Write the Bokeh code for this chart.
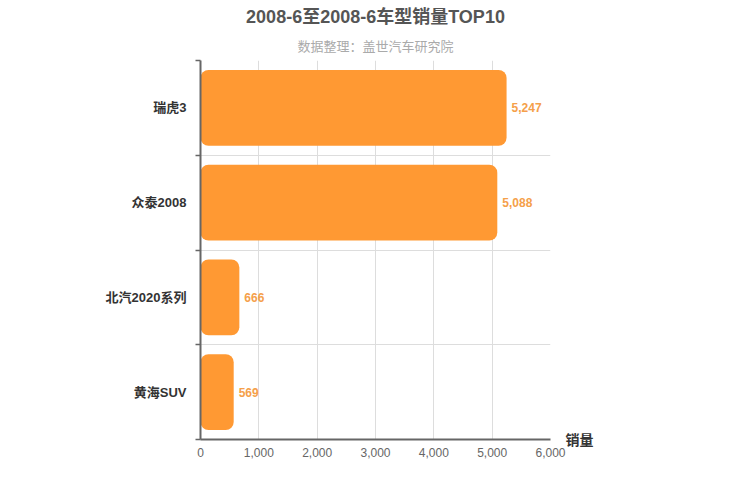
from bokeh.plotting import figure
from bokeh.models import (ColumnDataSource, Range1d, FixedTicker, NumeralTickFormatter,
                          Title, LinearAxis)
from bokeh.embed import file_html
from bokeh.resources import INLINE
from bokeh.core.properties import value

title_text = "2008-6至2008-6车型销量TOP10"
subtitle_text = "数据整理：盖世汽车研究院"
axis_name = "销量"
categories = ["瑞虎3", "众泰2008", "北汽2020系列", "黄海SUV"]
sales = [5247, 5088, 666, 569]
x_ticks = [0, 1000, 2000, 3000, 4000, 5000, 6000]

n = len(categories)
idx = list(range(n))
src = ColumnDataSource(dict(
    y=idx, v=sales, cat=categories,
    lab=[f"{s:,}" for s in sales],
))

FONT = "Liberation Sans, Noto Sans CJK SC"

p = figure(width=734, height=484, output_backend="svg", toolbar_location=None,
           x_range=Range1d(0, 6000), y_range=Range1d(n - 0.5, -0.5),
           min_border_left=200, min_border_right=184, min_border_top=60,
           min_border_bottom=45, y_axis_location=None, x_axis_location=None)
p.outline_line_color = None

p.hbar(y="y", right="v", left=0, height=0.8, source=src, color="#ff9933",
       line_color=None, border_radius=8)

p.text(x="v", y="y", text="lab", source=src, x_offset=5,
       text_baseline="middle", text_align="left", text_color="#f5a04a",
       text_font=value(FONT), text_font_size="12px", text_font_style="bold")

# x axis
xa = LinearAxis(ticker=FixedTicker(ticks=x_ticks),
                formatter=NumeralTickFormatter(format="0,0"))
xa.axis_line_color = "#666666"
xa.axis_line_width = 2
xa.major_tick_line_color = None
xa.major_tick_out = 0
xa.minor_tick_line_color = None
xa.major_label_text_color = "#666666"
xa.major_label_text_font = FONT
xa.major_label_text_font_size = "12px"
xa.major_label_standoff = 8
p.add_layout(xa, "below")

# y axis
ya = LinearAxis(ticker=FixedTicker(ticks=idx, minor_ticks=[i - 0.5 for i in range(n + 1)]),
                major_label_overrides={i: c for i, c in zip(idx, categories)})
ya.axis_line_color = "#666666"
ya.axis_line_width = 2
ya.major_tick_line_color = None
ya.major_tick_out = 0
ya.minor_tick_line_color = "#666666"
ya.minor_tick_line_width = 1.5
ya.minor_tick_in = 0
ya.minor_tick_out = 5
ya.major_label_text_color = "#333333"
ya.major_label_text_font = FONT
ya.major_label_text_font_size = "13px"
ya.major_label_text_font_style = "bold"
ya.major_label_standoff = 9
p.add_layout(ya, "left")

# axis name at the end of the x axis (a tick label of an empty right axis)
name_pos = n - 0.5
ra = LinearAxis(ticker=FixedTicker(ticks=[name_pos]),
                major_label_overrides={name_pos: axis_name})
ra.axis_line_color = None
ra.major_tick_line_color = None
ra.minor_tick_line_color = None
ra.major_tick_out = 0
ra.major_tick_in = 0
ra.minor_tick_out = 0
ra.major_label_orientation = "horizontal"
ra.major_label_text_font = FONT
ra.major_label_text_font_size = "14px"
ra.major_label_text_font_style = "bold"
ra.major_label_text_color = "#333333"
ra.major_label_standoff = 15
p.add_layout(ra, "right")

p.xgrid.ticker = FixedTicker(ticks=x_ticks)
p.xgrid.grid_line_color = "#dddddd"
p.ygrid.ticker = FixedTicker(ticks=[i - 0.5 for i in range(n)])
p.ygrid.grid_line_color = "#dddddd"

p.add_layout(Title(text=subtitle_text, align="center", text_color="#aaaaaa",
                   text_font=FONT, text_font_size="13px", text_font_style="normal",
                   standoff=13), "above")
p.add_layout(Title(text=title_text, align="center", text_color="#555555",
                   text_font=FONT, text_font_size="18px", text_font_style="bold",
                   standoff=8), "above")

open("out.html", "w").write(file_html(p, INLINE))
